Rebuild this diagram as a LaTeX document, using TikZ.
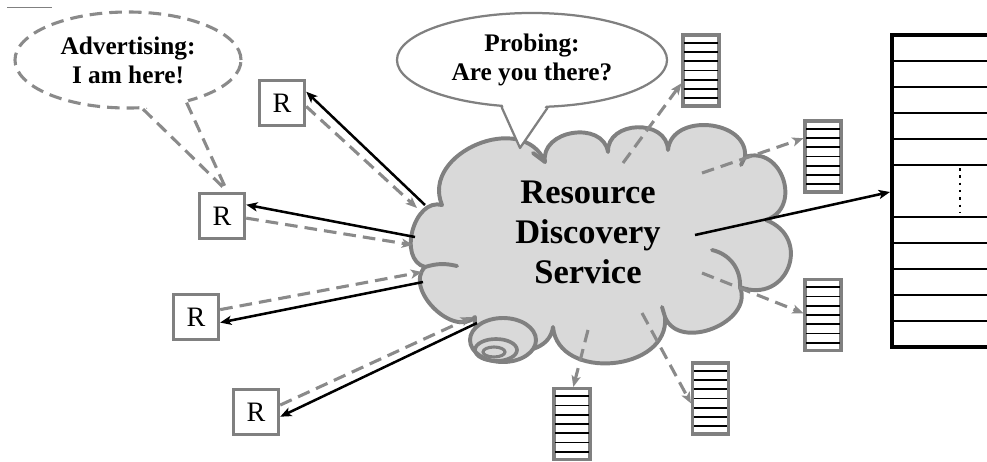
\documentclass[tikz,border=0pt]{standalone}
\usepackage{fontspec}
\setmainfont{Liberation Serif}
\usetikzlibrary{arrows.meta, calc, shapes.geometric}
\definecolor{lineGrey}{HTML}{808080}
\definecolor{dashGrey}{HTML}{8a8a8a}
\definecolor{cloudFill}{HTML}{d9d9d9}
\def\boxS{1.125cm}
\def\tabW{0.9cm}
\def\tabH{1.775cm}
\def\rowH{26}

\begin{document}
\begin{tikzpicture}[
    x=0.025cm, y=-0.025cm,
    every node/.style={font=\fontsize{20}{24}\selectfont},
    rbox/.style={draw=lineGrey, line width=2.4pt, fill=white,
                 minimum size=\boxS, inner sep=0pt},
    stack/.style={draw=lineGrey, line width=2.2pt, fill=white,
                  minimum width=\tabW, minimum height=\tabH, inner sep=0pt},
    balloon/.style={ellipse, align=center, inner sep=0pt,
                    font=\fontsize{18}{20.5}\selectfont\bfseries},
    puff/.style={bend left=90, looseness=#1},
    puff/.default=1.25,
    cloudline/.style={draw=lineGrey, line width=2.8pt, line join=round, line cap=round},
    reply/.style={-{Stealth[length=8pt,width=6.5pt,inset=2pt]}, line width=1.8pt, black},
    query/.style={-{Stealth[length=8pt,width=6.5pt,inset=2pt]}, line width=2.2pt,
                  dashGrey, dash pattern=on 9pt off 5pt},
    ]

\useasboundingbox (0,0) rectangle (987,461);

% ====================================================================
% Cloud: resource discovery service
% ====================================================================
\path[fill=cloudFill, cloudline]
  (425,267) to[puff=1.15] (442,205) to[puff=1.3] (545,162) to[puff=1.3] (608,152)
  to[puff=1.35] (668,150) to[puff=1.25] (745,157) to[puff=1.5] (766,220)
  to[puff=1.8] (740,287) to[puff=1.2] (665,317) to[puff=1.25] (553,327)
  to[puff] (475,317) to[puff=1.1] (425,267) -- cycle;

% inner curls of the puffs
\draw[cloudline] (425,267) to[bend left=15] (457,266);
\draw[cloudline] (545,162) -- (533,153);
\draw[cloudline] (745,157) -- (741,165);
\draw[cloudline] (712,250) to[bend left=40] (740,287);
\draw[cloudline] (665,317) -- (662,307);

% little swirl at the bottom left
\draw[cloudline, fill=cloudFill] (503,340) ellipse [x radius=33, y radius=22];
\draw[lineGrey, line width=2.6pt] (496,350) ellipse [x radius=21, y radius=11];
\draw[lineGrey, line width=2.2pt] (494,352) ellipse [x radius=11, y radius=5];

\node[font=\fontsize{24.5}{28.4}\selectfont\bfseries, align=center]
  (rds) at (588,232) {Resource\\Discovery\\Service};

% ====================================================================
% Registered resources (R) and probed resources (stacks)
% ====================================================================
\node[rbox] (r1) at (282,103) {R};
\node[rbox] (r2) at (222,216) {R};
\node[rbox] (r3) at (196,317) {R};
\node[rbox] (r4) at (256,412) {R};

\node[stack] (t1) at (701,70.5) {};
\node[stack] (t2) at (823,156.5) {};
\node[stack] (t3) at (823,315) {};
\node[stack] (t4) at (710.5,398.5) {};
\node[stack] (t5) at (572,424) {};
\foreach \tb in {t1,t2,t3,t4,t5}{
  \foreach \k in {1,...,7}
    \draw[line width=1.2pt, shorten <=2pt, shorten >=2pt]
      ($(\tb.north west)!\k/8!(\tb.south west)$) --
      ($(\tb.north east)!\k/8!(\tb.south east)$);
}

% Directory table on the right (runs off the page)
\foreach \k in {1,...,11}{
  \ifnum\k=6 \else
    \draw[line width=1.1pt] (892,{35+\k*\rowH}) -- (995,{35+\k*\rowH});
  \fi
}
\draw[line width=2.4pt] (995,35) -- (892,35) -- (892,347) -- (995,347);
\draw[line width=1.8pt, dash pattern=on 1.8pt off 3.4pt] (960,168) -- (960,213);
\coordinate (dirin) at (890,192);

% ====================================================================
% Arrows
% ====================================================================
\coordinate (k1b) at (425,205); \coordinate (k1d) at (417,208);
\coordinate (k2b) at (415,237); \coordinate (k2d) at (413,245);
\coordinate (k3d) at (422,272); \coordinate (k3b) at (423,282);
\coordinate (k4d) at (472,317); \coordinate (k4b) at (477,323);

\draw[reply] (k1b) -- (r1.25);
\draw[query] (r1.-8) -- (k1d);
\draw[reply] (k2b) -- (r2.25);
\draw[query] (r2.-5) -- (k2d);
\draw[query] (r3.17) -- (k3d);
\draw[reply] (k3b) -- (r3.-13);
\draw[query] (r4.16) -- (k4d);
\draw[reply] (k4b) -- (r4.-11);

% probes going out of the cloud
\coordinate (s1) at (623,163);
\coordinate (s2) at (702,173);
\coordinate (s3) at (702,273);
\coordinate (s4) at (642,313);
\coordinate (s5) at (588,330);
\draw[query] (s1) -- (t1.213);
\draw[query] (s2) -- (t2.137);
\draw[query] (s3) -- (t3.175);
\draw[query] (s4) -- (t4.194);
\draw[query] (s5) -- (t5.88);

\coordinate (kout) at (695,235);
\draw[reply] (kout) -- (dirin);

% ====================================================================
% Speech balloons
% ====================================================================
\node[balloon, draw=dashGrey, line width=2.2pt, dash pattern=on 9pt off 5pt,
      minimum width=5.65cm, minimum height=2.4cm] (adv) at (128,60)
  {Advertising:\\I am here!};
\coordinate (advtip) at (227,191);
\fill[white] ($(adv.-73)+(0,-5)$) -- (advtip) -- ($(adv.-36)+(0,-5)$) -- cycle;
\draw[dashGrey, line width=2.2pt, dash pattern=on 9pt off 5pt]
  (adv.-73) -- (advtip) (adv.-36) -- (advtip);

\node[balloon, draw=lineGrey, line width=1.6pt, fill=white,
      minimum width=6.75cm, minimum height=2.35cm] (probe) at (532,60)
  {Probing:\\Are you there?};
\coordinate (probetip) at (520,148);
\fill[white] ($(probe.-123)+(0,-5)$) -- (probetip) -- ($(probe.-72)+(0,-5)$) -- cycle;
\draw[lineGrey, line width=1.6pt, line join=round]
  (probe.-123) -- (probetip) -- (probe.-72);

% stray mark top left
\draw[lineGrey, line width=0.6pt] (7,7) -- (52,7);

\end{tikzpicture}
\end{document}
